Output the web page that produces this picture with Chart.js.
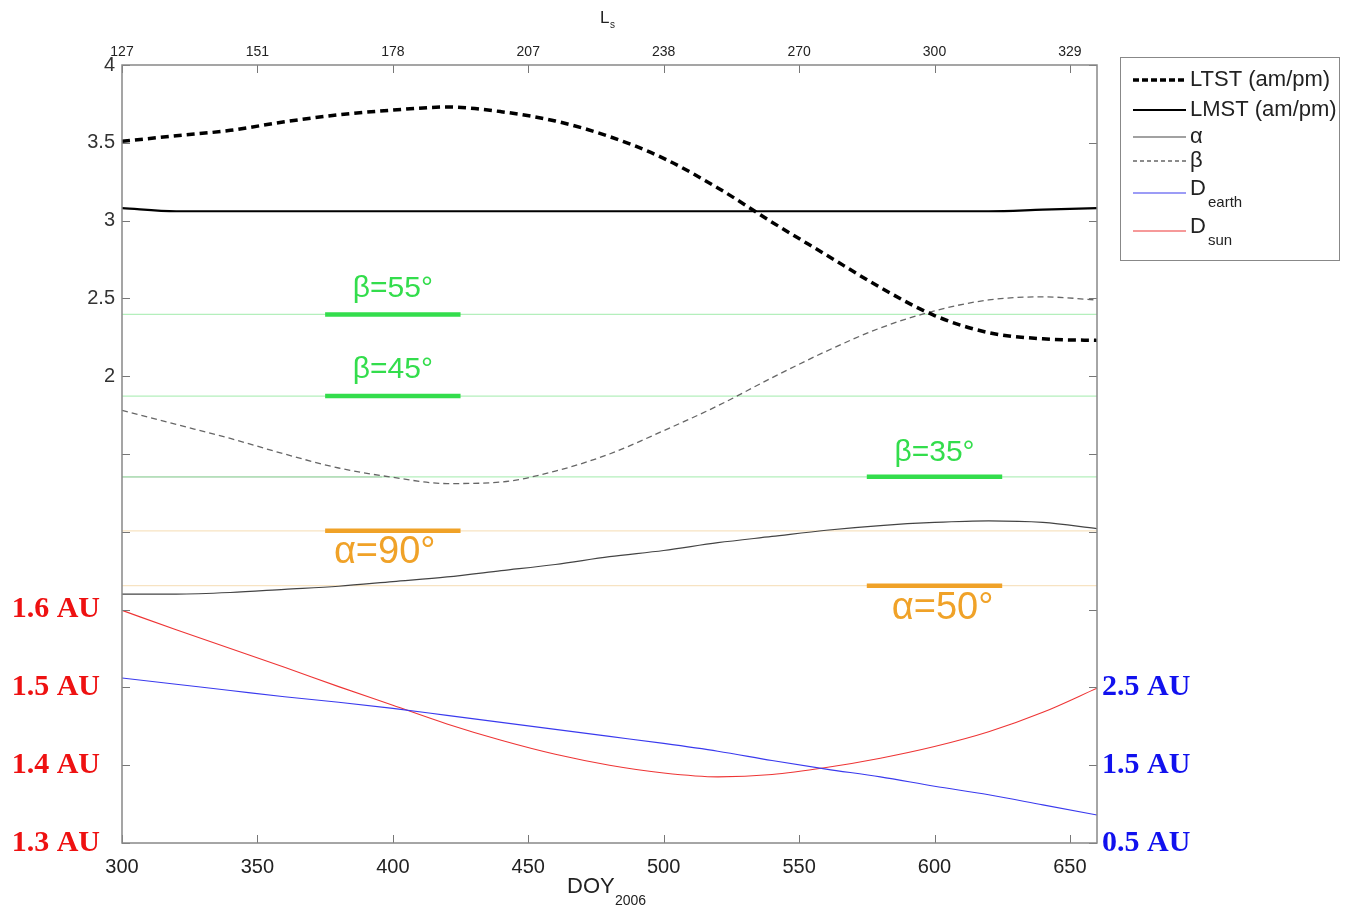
<!DOCTYPE html>
<html>
<head>
<meta charset="utf-8">
<script src="https://cdn.jsdelivr.net/npm/chart.js@4.4.0/dist/chart.umd.min.js"></script>
<style>
  html, body { margin: 0; padding: 0; background: #fff; }
</style>
</head>
<body>
<canvas id="chart" width="1347" height="911"></canvas>
<script>
// x positions (DOY 2006)
var doy = [300, 320, 340, 360, 380, 400, 420, 440, 460, 480, 500, 520, 540, 560, 580, 600, 620, 640, 660];

// local times (plot units)
var ltst  = [3.51, 3.545, 3.58, 3.635, 3.68, 3.71, 3.73, 3.70, 3.64, 3.54, 3.40, 3.21, 2.99, 2.78, 2.57, 2.39, 2.28, 2.24, 2.23];
var lmst  = [3.08, 3.06, 3.06, 3.06, 3.06, 3.06, 3.06, 3.06, 3.06, 3.06, 3.06, 3.06, 3.06, 3.06, 3.06, 3.06, 3.06, 3.07, 3.08];
// angles (plot units)
var alpha = [0.60, 0.60, 0.61, 0.63, 0.65, 0.68, 0.71, 0.75, 0.79, 0.84, 0.88, 0.93, 0.97, 1.01, 1.04, 1.06, 1.07, 1.06, 1.02];
var beta  = [1.78, 1.69, 1.60, 1.50, 1.41, 1.35, 1.31, 1.32, 1.39, 1.50, 1.65, 1.81, 1.99, 2.16, 2.31, 2.42, 2.49, 2.51, 2.49];
// distances in AU
var dSun   = [1.599, 1.574, 1.550, 1.526, 1.501, 1.477, 1.453, 1.432, 1.414, 1.400, 1.390, 1.385, 1.388, 1.397, 1.409, 1.424, 1.443, 1.468, 1.499];
var dEarth = [2.62, 2.54, 2.46, 2.38, 2.31, 2.23, 2.14, 2.05, 1.96, 1.87, 1.78, 1.68, 1.56, 1.45, 1.35, 1.23, 1.12, 0.99, 0.86];

// tick labels
var lsLabels = ['127', '151', '178', '207', '238', '270', '300', '329'];
var sunTicksAU = [1.3, 1.4, 1.5, 1.6];
var earthTicksAU = [0.5, 1.5, 2.5];

// reference levels
var betaLevels  = [2.397, 1.872, 1.353];
var alphaLevels = [1.006, 0.654];
var betaMarks  = [[375, 425, 2.397], [375, 425, 1.872], [575, 625, 1.353]];
var alphaMarks = [[375, 425, 1.006], [575, 625, 0.654]];
var notes = [
  ['\u03b2=55\u00b0', 400, 2.56, 'b'],
  ['\u03b2=45\u00b0', 400, 2.04, 'b'],
  ['\u03b2=35\u00b0', 600, 1.51, 'b'],
  ['\u03b1=90\u00b0', 397, 0.87, 'a'],
  ['\u03b1=50\u00b0', 603, 0.51, 'a']
];

// AU -> plot units
function sunToY(au) { return (au - 1.5) * 5; }
function earthToY(au) { return (au - 2.5) / 2; }

function pts(ys) {
  var out = [];
  for (var i = 0; i < doy.length; i++) out.push({x: doy[i], y: ys[i]});
  return out;
}

var GREEN = '#33dd4c', GREEN_L = '#b4efbc', ORANGE = '#f0a228', ORANGE_L = '#f7e3c2';
var SANS = '"Liberation Sans", Arial, sans-serif';

var datasets = [
  {label: 'LTST (am/pm)', data: pts(ltst), borderColor: '#000', borderWidth: 3.5, borderDash: [8, 5]},
  {label: 'LMST (am/pm)', data: pts(lmst), borderColor: '#000', borderWidth: 2.2},
  {label: '\u03b1', data: pts(alpha), borderColor: '#444', borderWidth: 1.2},
  {label: '\u03b2', data: pts(beta), borderColor: '#666', borderWidth: 1.3, borderDash: [6, 4]},
  {label: 'D', sub: 'earth', data: pts(dEarth.map(earthToY)), borderColor: '#3a3aee', borderWidth: 1.1},
  {label: 'D', sub: 'sun', data: pts(dSun.map(sunToY)), borderColor: '#ee3535', borderWidth: 1.1}
];
var legendCount = datasets.length;

betaMarks.forEach(function (m) {
  datasets.push({data: [{x: m[0], y: m[2]}, {x: m[1], y: m[2]}], borderColor: GREEN, borderWidth: 4.5});
});
alphaMarks.forEach(function (m) {
  datasets.push({data: [{x: m[0], y: m[2]}, {x: m[1], y: m[2]}], borderColor: ORANGE, borderWidth: 4.5});
});
betaLevels.forEach(function (v) {
  datasets.push({data: [{x: 300, y: v}, {x: 660, y: v}], borderColor: GREEN_L, borderWidth: 1.2});
});
alphaLevels.forEach(function (v) {
  datasets.push({data: [{x: 300, y: v}, {x: 660, y: v}], borderColor: ORANGE_L, borderWidth: 1.2});
});
datasets.push({data: [{x: 300, y: 1.353}, {x: 396, y: 1.353}], borderColor: '#888', borderWidth: 1});

function fixW(w) { return function (s) { s.width = w; }; }
function fixH(h) { return function (s) { s.height = h; }; }

// inner ticks, box, titles, notes, legend
var decor = {
  id: 'decor',
  afterDatasetsDraw: function (chart) {
    var c = chart.ctx, a = chart.chartArea;
    var sx = chart.scales.x, sy = chart.scales.y;
    c.save();
    c.strokeStyle = '#777';
    c.lineWidth = 1;
    c.beginPath();
    for (var v = -1; v <= 4; v += 0.5) {
      var py = Math.round(sy.getPixelForValue(v)) + 0.5;
      c.moveTo(a.left, py); c.lineTo(a.left + 8, py);
      c.moveTo(a.right, py); c.lineTo(a.right - 8, py);
    }
    for (var d = 300; d <= 650; d += 50) {
      var px = Math.round(sx.getPixelForValue(d)) + 0.5;
      c.moveTo(px, a.bottom); c.lineTo(px, a.bottom - 8);
      c.moveTo(px, a.top); c.lineTo(px, a.top + 8);
    }
    c.stroke();
    c.lineWidth = 1.5;
    c.strokeStyle = '#888';
    c.strokeRect(a.left, a.top, a.right - a.left, a.bottom - a.top);

    // notes on reference lines
    c.textAlign = 'center';
    c.textBaseline = 'middle';
    notes.forEach(function (n) {
      c.fillStyle = n[3] === 'b' ? GREEN : ORANGE;
      c.font = (n[3] === 'b' ? '30px ' : '38px ') + SANS;
      c.fillText(n[0], sx.getPixelForValue(n[1]), sy.getPixelForValue(n[2]));
    });

    // axis titles with subscripts
    c.fillStyle = '#222';
    c.textAlign = 'left';
    c.font = '22px ' + SANS;
    c.fillText('DOY', 567, 887);
    c.font = '14px ' + SANS;
    c.fillText('2006', 615, 901);
    c.font = '17px ' + SANS;
    c.fillText('L', 600, 18);
    c.font = '10px ' + SANS;
    c.fillText('s', 610, 25);

    // legend
    c.lineWidth = 1;
    c.strokeStyle = '#888';
    c.strokeRect(1120.5, 57.5, 219, 203);
    var rows = [80, 110, 137, 161, 189, 227];
    for (var i = 0; i < legendCount; i++) {
      var ds = chart.data.datasets[i], y = rows[i];
      c.beginPath();
      c.strokeStyle = ds.borderColor;
      c.lineWidth = ds.borderWidth;
      c.setLineDash(ds.borderDash ? (i === 0 ? [6, 3] : [4, 3]) : []);
      var ly = ds.sub ? y + 4 : y;
      c.moveTo(1133, ly); c.lineTo(1186, ly);
      c.stroke();
      c.setLineDash([]);
      c.fillStyle = '#222';
      c.font = '22px ' + SANS;
      c.fillText(ds.label, 1190, y);
      if (ds.sub) {
        c.font = '15px ' + SANS;
        c.fillText(ds.sub, 1208, y + 14);
      }
    }
    c.restore();
  }
};

function leftLabel(v) {
  if (v >= 2 - 1e-9) return String(Math.round(v * 10) / 10);
  for (var i = 0; i < sunTicksAU.length; i++) {
    if (Math.abs(sunToY(sunTicksAU[i]) - v) < 1e-6) return sunTicksAU[i].toFixed(1) + ' AU  ';
  }
  return '';
}
function rightLabel(v) {
  for (var i = 0; i < earthTicksAU.length; i++) {
    if (Math.abs(earthToY(earthTicksAU[i]) - v) < 1e-6) return earthTicksAU[i].toFixed(1) + ' AU';
  }
  return '';
}
var auFont = {family: '"Liberation Serif", "Times New Roman", serif', size: 30, weight: 'bold'};
var numFont = {family: SANS, size: 20};
var noGrid = {display: false, drawTicks: false};

var chart = new Chart(document.getElementById('chart'), {
  type: 'line',
  data: {datasets: datasets},
  options: {
    responsive: false,
    animation: false,
    layout: {padding: 0},
    elements: {point: {radius: 0}, line: {cubicInterpolationMode: 'monotone', fill: false}},
    plugins: {legend: {display: false}, tooltip: {enabled: false}},
    scales: {
      x: {
        type: 'linear', position: 'bottom', min: 300, max: 660,
        afterFit: fixH(68),
        grid: noGrid, border: {display: false},
        ticks: {stepSize: 50, includeBounds: false, color: '#222', padding: 12, font: numFont,
          callback: function (v) { return String(v); }}
      },
      x2: {
        type: 'linear', position: 'top', min: 300, max: 660,
        afterFit: fixH(65),
        grid: noGrid, border: {display: false},
        ticks: {stepSize: 50, includeBounds: false, color: '#222', padding: 4,
          font: {family: SANS, size: 14},
          callback: function (v) { return lsLabels[Math.round((v - 300) / 50)]; }}
      },
      y: {
        type: 'linear', position: 'left', min: -1, max: 4,
        afterFit: fixW(122),
        grid: noGrid, border: {display: false},
        ticks: {stepSize: 0.5, autoSkip: false, padding: 7,
          callback: leftLabel,
          color: function (ctx) { return ctx.tick && ctx.tick.value < 1 ? '#ee1111' : '#333'; },
          font: function (ctx) { return ctx.tick && ctx.tick.value < 1 ? auFont : numFont; }}
      },
      y2: {
        type: 'linear', position: 'right', min: -1, max: 4,
        afterFit: fixW(250),
        grid: noGrid, border: {display: false},
        ticks: {stepSize: 0.5, autoSkip: false, padding: 5, color: '#1111ee', font: auFont,
          callback: rightLabel}
      }
    }
  },
  plugins: [decor]
});
</script>
</body>
</html>
